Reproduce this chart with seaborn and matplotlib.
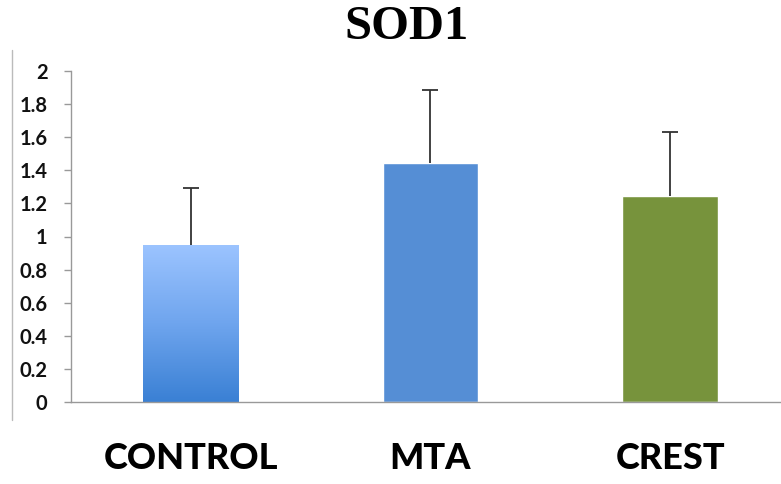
import numpy as np
import pandas as pd
import matplotlib.pyplot as plt
import seaborn as sns
from matplotlib.colors import LinearSegmentedColormap
from matplotlib.lines import Line2D

# SOD1 values
groups = ["CONTROL", "MTA", "CREST"]
means = [0.95, 1.445, 1.245]
errors = [0.345, 0.44, 0.385]
bar_colors = ["#6fa5ee", "#558ed5", "#77933c"]
yticks = [0, 0.2, 0.4, 0.6, 0.8, 1, 1.2, 1.4, 1.6, 1.8, 2]

df = pd.DataFrame({"group": groups, "value": means})

sns.set_style("white")
fig = plt.figure(figsize=(7.81, 4.84), dpi=100)
ax = fig.add_axes([71 / 781, 82 / 484, 1 - 71 / 781, 331 / 484])

sns.barplot(data=df, x="group", y="value", hue="group", palette=bar_colors,
            width=0.4, legend=False, ax=ax, saturation=1)

# gradient fill on the control bar
bar = ax.patches[0]
grad = LinearSegmentedColormap.from_list("g", ["#3a80d4", "#6fa5ee", "#9cc4ff"])
x0, w = bar.get_x(), bar.get_width()
img = ax.imshow(np.linspace(0, 1, 256).reshape(-1, 1), cmap=grad, aspect="auto",
                origin="lower", extent=[x0, x0 + w, 0, bar.get_height()], zorder=bar.get_zorder() + 0.1)
img.set_clip_path(bar)

# upper error bars only
_, caps, _ = ax.errorbar(range(len(groups)), means, yerr=[np.zeros(len(errors)), errors],
                         fmt="none", ecolor="#333333", elinewidth=1.3, capsize=6,
                         capthick=1.3, zorder=5)
for c in caps:
    if np.allclose(c.get_ydata(), means):
        c.set_visible(False)

ax.set_xlim(-0.5, 2.4625)
ax.set_ylim(0, 2)
ax.set_yticks(yticks)
ax.set_yticklabels([f"{t:g}" for t in yticks], fontsize=14.5, fontweight="bold",
                   family=["Lato", "DejaVu Sans"], color="#111111")
ax.set_xticks(range(len(groups)))
ax.set_xticklabels(groups, fontsize=26, fontweight="black", family=["Lato", "DejaVu Sans"],
                   color="#000000")
ax.set_xticks([0.5, 1.5], minor=True)
ax.tick_params(axis="x", which="major", length=0, pad=29)
ax.tick_params(axis="x", which="minor", length=8, width=1, color="#999999", direction="out")
ax.tick_params(axis="y", length=5, width=1, color="#999999", direction="out", pad=12, left=True)
ax.set_xlabel("")
ax.set_ylabel("")

for s in ["top", "right"]:
    ax.spines[s].set_visible(False)
for s in ["left", "bottom"]:
    ax.spines[s].set_color("#999999")
    ax.spines[s].set_linewidth(1)

fig.text(407 / 781, 1 - 27 / 484, "SOD1", ha="center", va="center", fontsize=35,
         fontweight="bold", family="Liberation Serif", color="#000000")

# thin frame line at the left edge
fig.add_artist(Line2D([12 / 781, 12 / 781], [1 - 420 / 484, 1 - 50 / 484],
                      color="#bbbbbb", lw=1))

fig.savefig("out.png", dpi=100)
